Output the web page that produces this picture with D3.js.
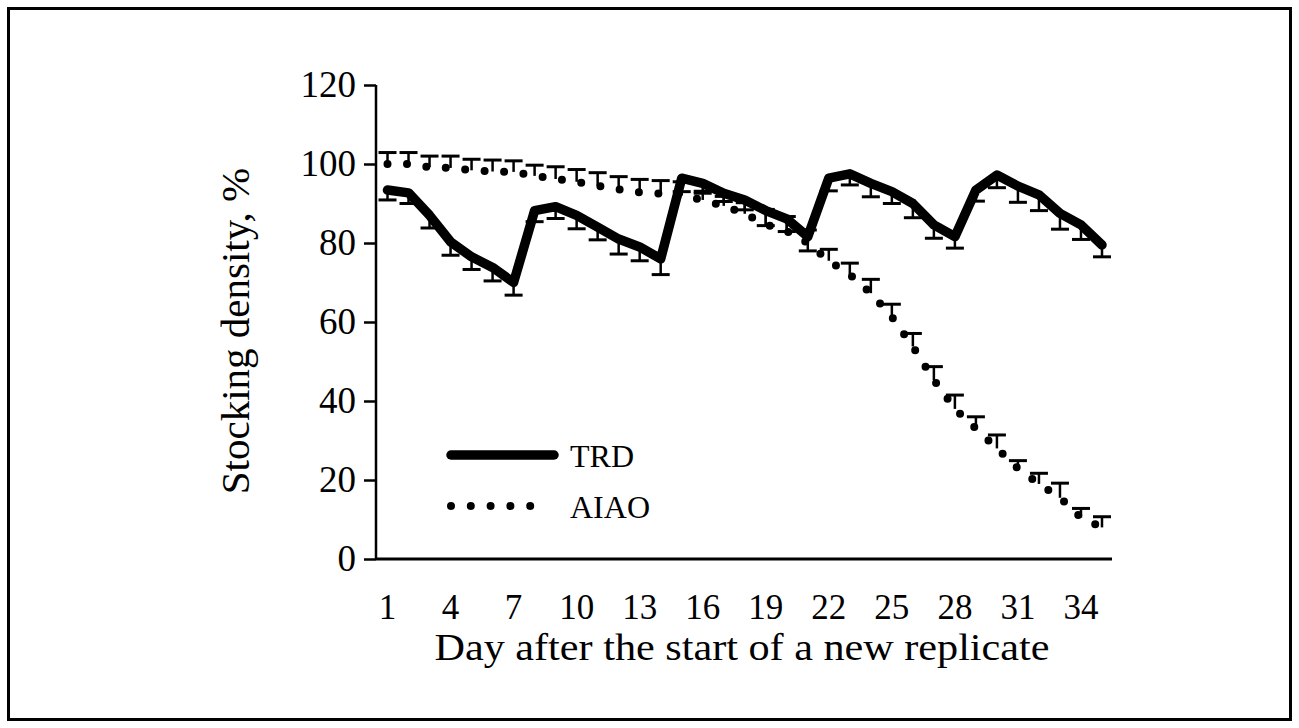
<!DOCTYPE html>
<html>
<head>
<meta charset="utf-8">
<script src="https://cdn.jsdelivr.net/npm/d3@7"></script>
<style>
  body { margin: 0; background: #fff; }
  text { font-family: "Liberation Serif", "Times New Roman", serif; fill: #000; }
</style>
</head>
<body>
<div id="chart"></div>
<script>
// values
const days = d3.range(1, 36);
const trd = [93.4, 92.7, 87.0, 80.3, 76.5, 73.8, 70.0, 88.2, 89.2, 87.0, 84.0, 81.0, 79.0, 76.0, 96.4,
  95.1, 92.6, 90.9, 88.2, 86.1, 81.6, 96.4, 97.5, 95.1, 93.0, 90.0, 84.6, 81.6, 93.4, 97.2,
  94.4, 92.2, 87.5, 84.6, 79.5];
const trdErr = [2.5, 2.7, 3.2, 3.4, 3.2, 3.4, 3.2, 2.8, 3.0, 3.4, 3.2, 3.8, 3.5, 4.0, 3.4,
  2.5, 2.1, 2.5, 3.8, 3.2, 3.6, 3.2, 2.8, 3.4, 3.0, 3.6, 3.4, 2.9, 2.8, 3.2,
  4.1, 4.0, 4.0, 3.7, 3.0];
const aiao = [100, 100, 99.2, 99.0, 98.4, 98.1, 98.0, 97.0, 96.2, 95.5, 94.5, 93.6, 92.8, 92.5, 92.0,
  90.9, 89.4, 87.4, 84.7, 83.0, 80.0, 75.5, 72.0, 67.3, 61.3, 53.8, 45.3, 38.0, 33.0, 28.0,
  22.9, 19.0, 15.5, 10.5, 8.0];
const aiaoErr = [2.9, 2.9, 2.8, 3.0, 2.8, 2.9, 2.8, 2.7, 3.1, 3.1, 3.3, 3.2, 3.3, 3.3, 3.5,
  2.2, 2.4, 2.8, 3.8, 3.7, 3.3, 2.9, 2.9, 3.5, 3.2, 3.3, 3.4, 3.5, 3.0, 3.4,
  2.0, 2.7, 3.7, 2.3, 2.7];
const xTickDays = [1, 4, 7, 10, 13, 16, 19, 22, 25, 28, 31, 34];
const yTicks = [0, 20, 40, 60, 80, 100, 120];
const seriesNames = ["TRD", "AIAO"];

const W = 1299, H = 728;
const svg = d3.select("#chart").append("svg").attr("width", W).attr("height", H);

// outer frame
svg.append("rect").attr("x", 8.5).attr("y", 8.5).attr("width", W - 17).attr("height", H - 17)
  .attr("fill", "none").attr("stroke", "#000").attr("stroke-width", 3);

const x = d3.scaleBand().domain(days).range([377, 1112.5]).padding(0);
const cx = d => x(d) + x.bandwidth() / 2;
const y = d3.scaleLinear().domain([0, 120]).range([559, 85]);

// y axis
const yAxis = svg.append("g").attr("transform", "translate(376,0)")
  .call(d3.axisLeft(y).tickValues(yTicks).tickSize(12).tickPadding(8));
yAxis.select(".domain").attr("stroke-width", 2.5).attr("d", "M0," + y(120) + "V" + y(0));
yAxis.selectAll(".tick line").attr("stroke-width", 2.5);
yAxis.selectAll(".tick text").attr("font-size", 37).attr("font-family", "Liberation Serif");

// x axis, labels only
const xAxis = svg.append("g").attr("transform", "translate(0,559)")
  .call(d3.axisBottom(x).tickValues(xTickDays).tickSize(0).tickPadding(0));
xAxis.select(".domain").attr("stroke-width", 3).attr("d", "M376,0H1112");
xAxis.selectAll(".tick text").attr("font-size", 35).attr("font-family", "Liberation Serif")
  .attr("dy", null).attr("y", 60);

// axis titles
svg.append("text").attr("transform", "translate(249,331) rotate(-90)")
  .attr("text-anchor", "middle").attr("font-size", 41).text("Stocking density, %");
svg.append("text").attr("x", 742).attr("y", 660)
  .attr("text-anchor", "middle").attr("font-size", 37)
  .attr("textLength", 615).attr("lengthAdjust", "spacingAndGlyphs")
  .text("Day after the start of a new replicate");

// error bars: TRD below the mean, AIAO above
const capW = 18;
const drawErr = (vals, errs, sign) => {
  const g = svg.append("g").attr("stroke", "#000");
  days.forEach((d, i) => {
    const y0 = y(vals[i]), y1 = y(vals[i] + sign * errs[i]);
    g.append("line").attr("x1", cx(d)).attr("x2", cx(d)).attr("y1", y0).attr("y2", y1).attr("stroke-width", 2.5);
    g.append("line").attr("x1", cx(d) - capW / 2).attr("x2", cx(d) + capW / 2)
      .attr("y1", y1).attr("y2", y1).attr("stroke-width", 3);
  });
};
drawErr(trd, trdErr, -1);
drawErr(aiao, aiaoErr, 1);

const line = d3.line().x((v, i) => cx(days[i])).y(v => y(v));

svg.append("path").datum(trd).attr("d", line).attr("fill", "none").attr("stroke", "#000")
  .attr("stroke-width", 9.5).attr("stroke-linejoin", "round").attr("stroke-linecap", "round");

svg.append("path").datum(aiao).attr("d", line).attr("fill", "none").attr("stroke", "#000")
  .attr("stroke-width", 8).attr("stroke-linecap", "round").attr("stroke-dasharray", "0 19.5");

// legend
const leg = svg.append("g");
leg.append("line").attr("x1", 451).attr("x2", 554).attr("y1", 455).attr("y2", 455)
  .attr("stroke", "#000").attr("stroke-width", 9.5).attr("stroke-linecap", "round");
leg.append("line").attr("x1", 451).attr("x2", 550).attr("y1", 506).attr("y2", 506)
  .attr("stroke", "#000").attr("stroke-width", 8).attr("stroke-linecap", "round").attr("stroke-dasharray", "0 19.8");
leg.selectAll("text").data(seriesNames).enter().append("text")
  .attr("x", 570).attr("y", (d, i) => 467 + i * 51).attr("font-size", 32).text(d => d);
</script>
</body>
</html>
